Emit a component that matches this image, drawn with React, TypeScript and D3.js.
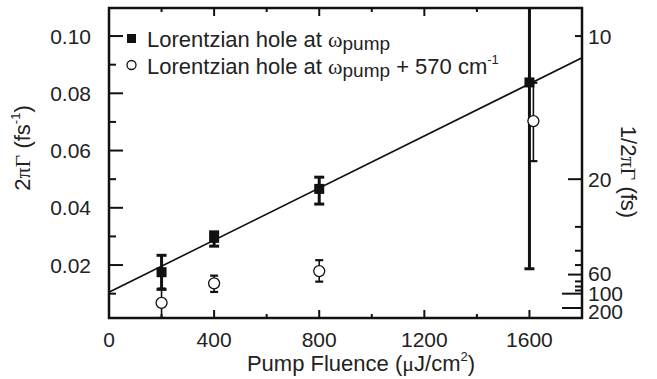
import React from "react";
import * as d3 from "d3";

// Data
const holeFluence = [200, 400, 800, 1600];
const holeWidth = [0.0175, 0.0295, 0.0466, 0.0838];
const holeLow = [0.0115, 0.0266, 0.0413, 0.0187];
const holeHigh = [0.0234, 0.0316, 0.0507, 0.149];

const sideFluence = [200, 400, 800, 1615];
const sideWidth = [0.0068, 0.0136, 0.0179, 0.0703];
const sideLow = [0.0015, 0.0106, 0.0142, 0.0563];
const sideHigh = [0.0118, 0.0163, 0.0217, 0.0837];

const fitX = [0, 1800];
const fitY = [0.0105, 0.0924];

const xMajor = [0, 400, 800, 1200, 1600];
const xMinor = [200, 600, 1000, 1400];
const yMajor = [0.02, 0.04, 0.06, 0.08, 0.1];
const yMinor = [0.01, 0.03, 0.05, 0.07, 0.09];
const rightLabeled = [10, 20, 60, 100, 200];
const rightMinor = [30, 40, 50, 70, 80, 90];

const W = 657;
const H = 379;
const L = 109, R = 582, T = 8, B = 318;
const FONT = "'Liberation Sans', Arial, Helvetica, sans-serif";
const SERIF = "'Liberation Serif', 'Times New Roman', serif";

export default function App() {
  const x = d3.scaleLinear().domain([0, 1800]).range([L, R]);
  const y = d3.scaleLinear().domain([0.0015, 0.1098]).range([B, T]);
  const fitLine = d3
    .line<number>()
    .x((_, i) => x(fitX[i]))
    .y((d) => y(d));

  const fs = 21;
  const rightLen = (t: number) => (t >= 100 ? 20 : t === 20 || t === 60 ? 14 : 7);
  const rightShift: Record<number, number> = { 60: -1, 100: 0, 200: 3 };

  return (
    <svg
      width={W}
      height={H}
      style={{ position: "absolute", left: 0, top: 0, background: "#fff" }}
      fontFamily={FONT}
    >
      <defs>
        <clipPath id="plot">
          <rect x={L} y={T} width={R - L} height={B - T} />
        </clipPath>
      </defs>
      <rect width={W} height={H} fill="#fff" />

      {/* ticks */}
      <g stroke="#111" strokeWidth={2}>
        {xMajor.map((t) => (
          <g key={"xm" + t}>
            <line x1={x(t)} x2={x(t)} y1={B} y2={B - 8} />
            <line x1={x(t)} x2={x(t)} y1={T} y2={T + 8} />
          </g>
        ))}
        {xMinor.map((t) => (
          <g key={"xn" + t}>
            <line x1={x(t)} x2={x(t)} y1={B} y2={B - 4} />
            <line x1={x(t)} x2={x(t)} y1={T} y2={T + 4} />
          </g>
        ))}
        {yMajor.map((t) => (
          <line key={"ym" + t} x1={L} x2={L + 14} y1={y(t)} y2={y(t)} />
        ))}
        {yMinor.map((t) => (
          <line key={"yn" + t} x1={L} x2={L + 7} y1={y(t)} y2={y(t)} />
        ))}
        {rightLabeled.concat(rightMinor).map((t) => (
          <line key={"r" + t} x1={R} x2={R - rightLen(t)} y1={y(1 / t)} y2={y(1 / t)} />
        ))}
      </g>

      {/* data */}
      <g clipPath="url(#plot)">
        <path d={fitLine(fitY) || ""} fill="none" stroke="#111" strokeWidth={1.6} />
        {sideFluence.map((f, i) => (
          <g key={"s" + i} stroke="#111" strokeWidth={1.6}>
            <line x1={x(f)} x2={x(f)} y1={y(sideLow[i])} y2={y(sideHigh[i])} />
            <line x1={x(f) - 4} x2={x(f) + 4} y1={y(sideLow[i])} y2={y(sideLow[i])} strokeWidth={2.2} />
            <line x1={x(f) - 4} x2={x(f) + 4} y1={y(sideHigh[i])} y2={y(sideHigh[i])} strokeWidth={2.2} />
          </g>
        ))}
        {holeFluence.map((f, i) => (
          <g key={"h" + i} stroke="#111" strokeWidth={3}>
            <line x1={x(f)} x2={x(f)} y1={y(holeLow[i])} y2={y(holeHigh[i])} />
            <line x1={x(f) - 5} x2={x(f) + 5} y1={y(holeLow[i])} y2={y(holeLow[i])} />
            <line x1={x(f) - 5} x2={x(f) + 5} y1={y(holeHigh[i])} y2={y(holeHigh[i])} />
          </g>
        ))}
        {sideFluence.map((f, i) => (
          <circle key={"c" + i} cx={x(f)} cy={y(sideWidth[i])} r={5.5} fill="#fff" stroke="#111" strokeWidth={1.3} />
        ))}
        {holeFluence.map((f, i) => (
          <rect key={"q" + i} x={x(f) - 5} y={y(holeWidth[i]) - 5} width={10} height={10} fill="#111" />
        ))}
      </g>

      {/* frame */}
      <rect x={L} y={T} width={R - L} height={B - T} fill="none" stroke="#111" strokeWidth={2.5} />

      {/* tick labels */}
      <g fontSize={fs} fill="#222">
        {xMajor.map((t) => (
          <text key={"xl" + t} x={x(t)} y={347} textAnchor="middle">
            {t}
          </text>
        ))}
        {yMajor.map((t) => (
          <text key={"yl" + t} x={91} y={y(t)} dy="0.36em" textAnchor="end">
            {d3.format(".2f")(t)}
          </text>
        ))}
        {rightLabeled.map((t) => (
          <text key={"rl" + t} x={588} y={y(1 / t) + (rightShift[t] || 0)} dy="0.36em">
            {t}
          </text>
        ))}
      </g>

      {/* axis titles */}
      <text x={361} y={371} fontSize={fs + 1} textAnchor="middle" fill="#222">
        Pump Fluence (<tspan fontFamily={SERIF}>μ</tspan>J/cm
        <tspan fontSize={13} dy={-10}>2</tspan>
        <tspan dy={10}>)</tspan>
      </text>
      <text transform="translate(30,148) rotate(-90)" fontSize={fs + 1} textAnchor="middle" fill="#222">
        2<tspan fontFamily={SERIF}>πΓ</tspan> (fs
        <tspan fontSize={13} dy={-10}>-1</tspan>
        <tspan dy={10}>)</tspan>
      </text>
      <text transform="translate(621,172) rotate(90)" fontSize={fs + 1} textAnchor="middle" fill="#222">
        1/2<tspan fontFamily={SERIF}>πΓ</tspan> (fs)
      </text>

      {/* legend */}
      <rect x={127} y={34} width={9} height={9} fill="#111" />
      <circle cx={131.5} cy={65} r={4.5} fill="#fff" stroke="#111" strokeWidth={1.3} />
      <g fontSize={fs + 1} fill="#222">
        <text x={147} y={47}>
          Lorentzian hole at <tspan fontFamily={SERIF}>ω</tspan>
          <tspan fontSize={19} dy={3}>pump</tspan>
        </text>
        <text x={147} y={74}>
          Lorentzian hole at <tspan fontFamily={SERIF}>ω</tspan>
          <tspan fontSize={19} dy={3}>pump</tspan>
          <tspan dy={-3}> + 570 cm</tspan>
          <tspan fontSize={13} dy={-10}>-1</tspan>
        </text>
      </g>
    </svg>
  );
}
